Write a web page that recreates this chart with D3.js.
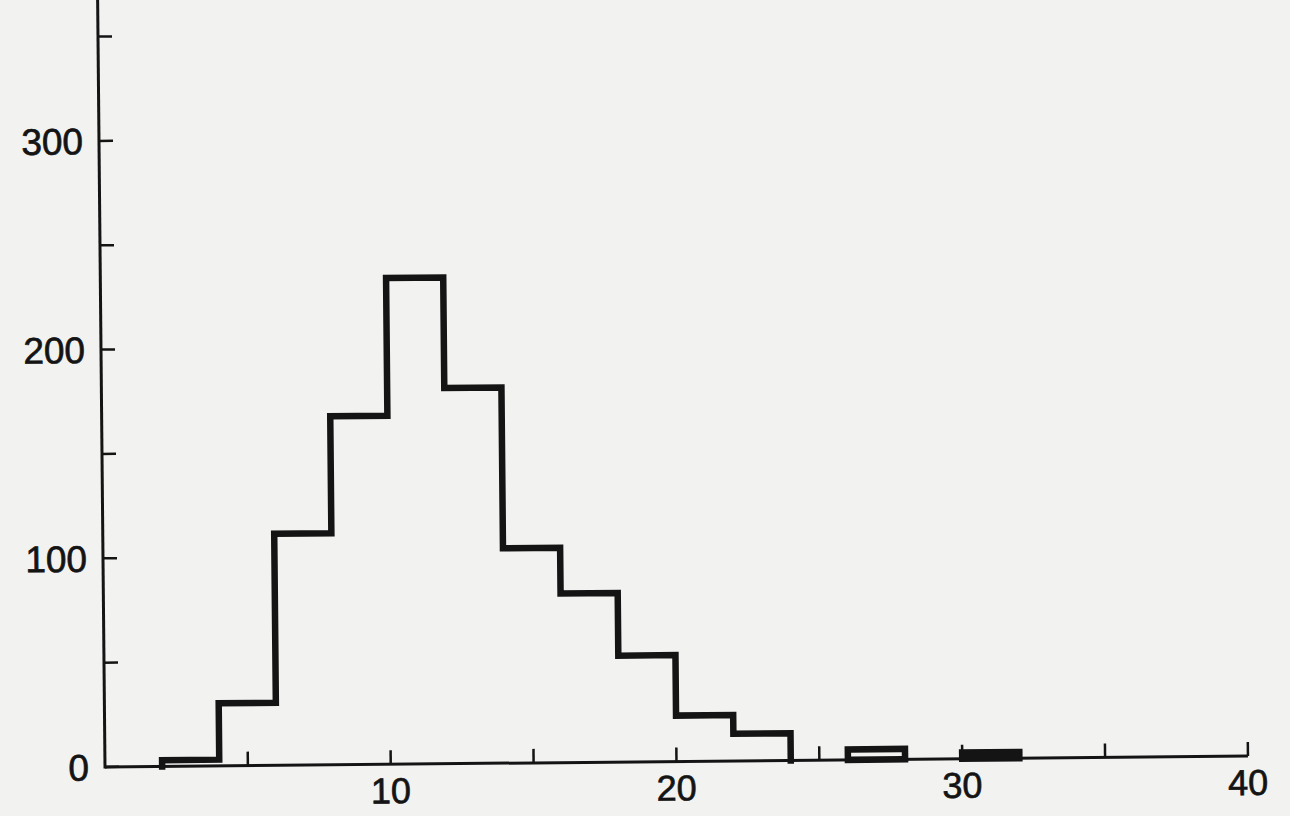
<!DOCTYPE html>
<html>
<head>
<meta charset="utf-8">
<script src="https://cdn.jsdelivr.net/npm/d3@7"></script>
<style>
  html, body { margin: 0; padding: 0; background: #f2f2f1; }
  svg { display: block; }
</style>
</head>
<body>
<svg id="chart" width="1290" height="816"></svg>
<script>
// ---- data ----
const binStarts = [0, 2, 4, 6, 8, 10, 12, 14, 16, 18, 20, 22, 24, 26, 28, 30, 32, 34, 36, 38];
const binWidth = 2;
const counts    = [0, 3, 30, 111, 167, 233, 180, 103, 81, 51, 22, 13, 0, 5, 0, 3, 0, 0, 0, 0];
const xTicks = [5, 10, 15, 20, 25, 30, 35, 40];
const xTickLabels = [10, 20, 30, 40];
const yTicks = [0, 50, 100, 150, 200, 250, 300, 350];
const yTickLabels = [0, 100, 200, 300];

// ---- layout ----
const W = 1290, H = 816;
const originX = 105, originY = 767;
const plotRight = 1248;
const ink = "#141414";
const font = "'Liberation Sans', Arial, Helvetica, sans-serif";

const svg = d3.select("#chart");
svg.append("rect").attr("width", W).attr("height", H).attr("fill", "#f2f2f1");

const x = d3.scaleLinear().domain([0, 40]).range([originX, plotRight]);
const y = d3.scaleLinear().domain([0, 100]).range([originY, originY - 208.7]);

const g = svg.append("g").attr("transform", `rotate(-0.55, ${originX}, ${originY})`);

// axes lines
g.append("line")
  .attr("x1", x(0)).attr("x2", x(40))
  .attr("y1", y(0)).attr("y2", y(0))
  .attr("stroke", ink).attr("stroke-width", 3);
g.append("line")
  .attr("x1", x(0)).attr("x2", x(0))
  .attr("y1", y(0) + 1.5).attr("y2", y(375))
  .attr("stroke", ink).attr("stroke-width", 3);

// x ticks (pointing up)
g.selectAll(".xt").data(xTicks).enter().append("line")
  .attr("x1", d => x(d)).attr("x2", d => x(d))
  .attr("y1", y(0)).attr("y2", y(0) - 14)
  .attr("stroke", ink).attr("stroke-width", 2.5);

// y ticks (pointing right)
g.selectAll(".yt").data(yTicks).enter().append("line")
  .attr("x1", x(0)).attr("x2", x(0) + 14)
  .attr("y1", d => y(d)).attr("y2", d => y(d))
  .attr("stroke", ink).attr("stroke-width", 2.5);

// tick labels
g.selectAll(".xl").data(xTickLabels).enter().append("text")
  .attr("x", d => x(d)).attr("y", y(0) + 39)
  .attr("text-anchor", "middle")
  .attr("font-family", font).attr("font-size", 36)
  .attr("fill", ink).attr("stroke", ink).attr("stroke-width", 0.7)
  .text(d => d);

g.selectAll(".yl").data(yTickLabels).enter().append("text")
  .attr("x", x(0) - 16).attr("y", d => y(d))
  .attr("dy", "0.36em")
  .attr("text-anchor", "end")
  .attr("font-family", font).attr("font-size", 37)
  .attr("fill", ink).attr("stroke", ink).attr("stroke-width", 0.7)
  .text(d => d);

// histogram outline: one path per run of non-empty bins
const bins = binStarts.map((s, i) => ({ x0: s, x1: s + binWidth, v: counts[i] }));
const runs = [];
let cur = null;
bins.forEach(b => {
  if (b.v > 0) {
    if (!cur) { cur = []; runs.push(cur); }
    cur.push(b);
  } else cur = null;
});

runs.forEach(run => {
  const pts = [[run[0].x0, 0]];
  run.forEach(b => { pts.push([b.x0, b.v]); pts.push([b.x1, b.v]); });
  pts.push([run[run.length - 1].x1, 0]);
  const line = d3.line().x(p => x(p[0])).y(p => y(p[1]));
  g.append("path")
    .attr("d", line(pts) + (run.length === 1 ? "Z" : ""))
    .attr("fill", "none")
    .attr("stroke", ink)
    .attr("stroke-width", 6.5)
    .attr("stroke-linejoin", "miter")
    .attr("stroke-linecap", "square");
});
</script>
</body>
</html>
